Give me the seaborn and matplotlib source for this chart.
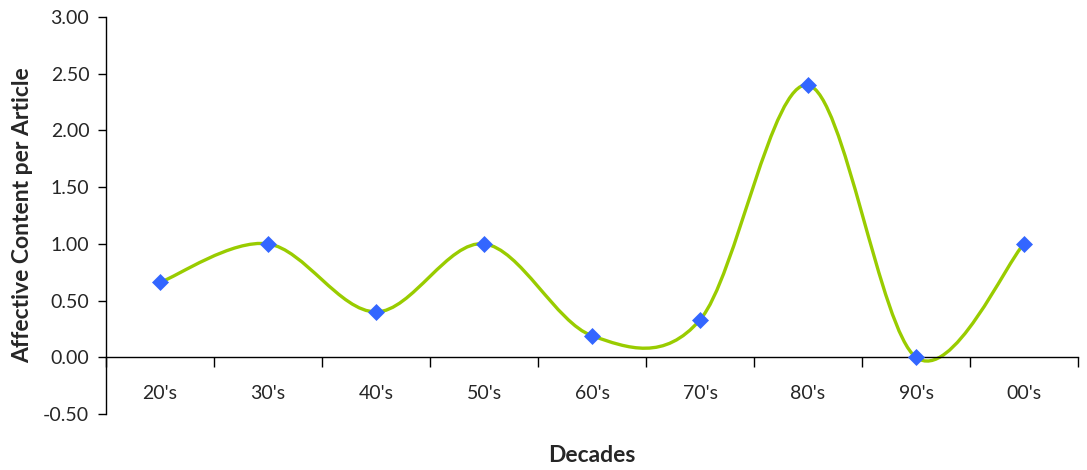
import numpy as np
import matplotlib
matplotlib.use("Agg")
import matplotlib.pyplot as plt
import seaborn as sns
from matplotlib.path import Path
from matplotlib.patches import PathPatch
from matplotlib.ticker import FixedLocator, FormatStrFormatter

# -----------------------------
# DATA
# -----------------------------
decades = ["20's", "30's", "40's", "50's", "60's", "70's", "80's", "90's", "00's"]
affect = [0.66, 1.00, 0.40, 1.00, 0.19, 0.33, 2.40, 0.00, 1.00]
y_ticks = [-0.50, 0.00, 0.50, 1.00, 1.50, 2.00, 2.50, 3.00]

LINE_COLOR = "#99CC00"
MARK_COLOR = "#3366FF"

# -----------------------------
# STYLE
# -----------------------------
sns.set_style("white")
plt.rcParams["font.family"] = ["Lato", "DejaVu Sans"]

fig = plt.figure(figsize=(10.87, 4.70), dpi=100)
ax = fig.add_axes([106 / 1087, 1 - 414 / 470, 972 / 1087, 397 / 470])

# -----------------------------
# SMOOTHED LINE (Excel-style bezier through the points)
# -----------------------------
x = np.arange(len(decades), dtype=float)
y = np.array(affect)
pts = np.column_stack([x, y])
verts = [pts[0]]
codes = [Path.MOVETO]
n = len(pts)
for i in range(n - 1):
    p0 = pts[max(i - 1, 0)]
    p1 = pts[i]
    p2 = pts[i + 1]
    p3 = pts[min(i + 2, n - 1)]
    c1 = p1 + (p2 - p0) / 6.0
    c2 = p2 - (p3 - p1) / 6.0
    verts += [c1, c2, p2]
    codes += [Path.CURVE4] * 3
ax.add_patch(PathPatch(Path(verts, codes), facecolor="none",
                       edgecolor=LINE_COLOR, lw=2.4, zorder=2,
                       capstyle="round", joinstyle="round"))

sns.scatterplot(x=x, y=y, marker="D", s=75, color=MARK_COLOR,
                edgecolor=MARK_COLOR, linewidth=0, zorder=3, ax=ax)

# -----------------------------
# AXES
# -----------------------------
ax.set_xlim(-0.5, len(decades) - 0.5)
ax.set_ylim(-0.5, 3.0)

ax.spines["top"].set_visible(False)
ax.spines["right"].set_visible(False)
ax.spines["bottom"].set_position(("data", 0))
for s in ["left", "bottom"]:
    ax.spines[s].set_color("black")
    ax.spines[s].set_linewidth(1.0)

ax.set_yticks(y_ticks)
ax.yaxis.set_major_formatter(FormatStrFormatter("%.2f"))
ax.tick_params(axis="y", which="major", direction="out", length=6,
               width=1, color="black", labelsize=14, pad=6, left=True)

ax.set_xticks(x)
ax.set_xticklabels(decades)
ax.xaxis.set_minor_locator(FixedLocator(np.arange(-0.5, len(decades), 1.0)))
ax.tick_params(axis="x", which="major", length=0, labelsize=14, pad=20)
ax.tick_params(axis="x", which="minor", direction="out", length=7,
               width=1, color="black", bottom=True)

ax.set_xlabel("Decades", fontsize=16.5, fontweight="bold")
ax.set_ylabel("Affective Content per Article", fontsize=16.5, fontweight="bold")
ax.xaxis.set_label_coords(0.5, -0.078)
ax.yaxis.set_label_coords(-0.075, 0.5)

fig.savefig("out.png", dpi=100)
